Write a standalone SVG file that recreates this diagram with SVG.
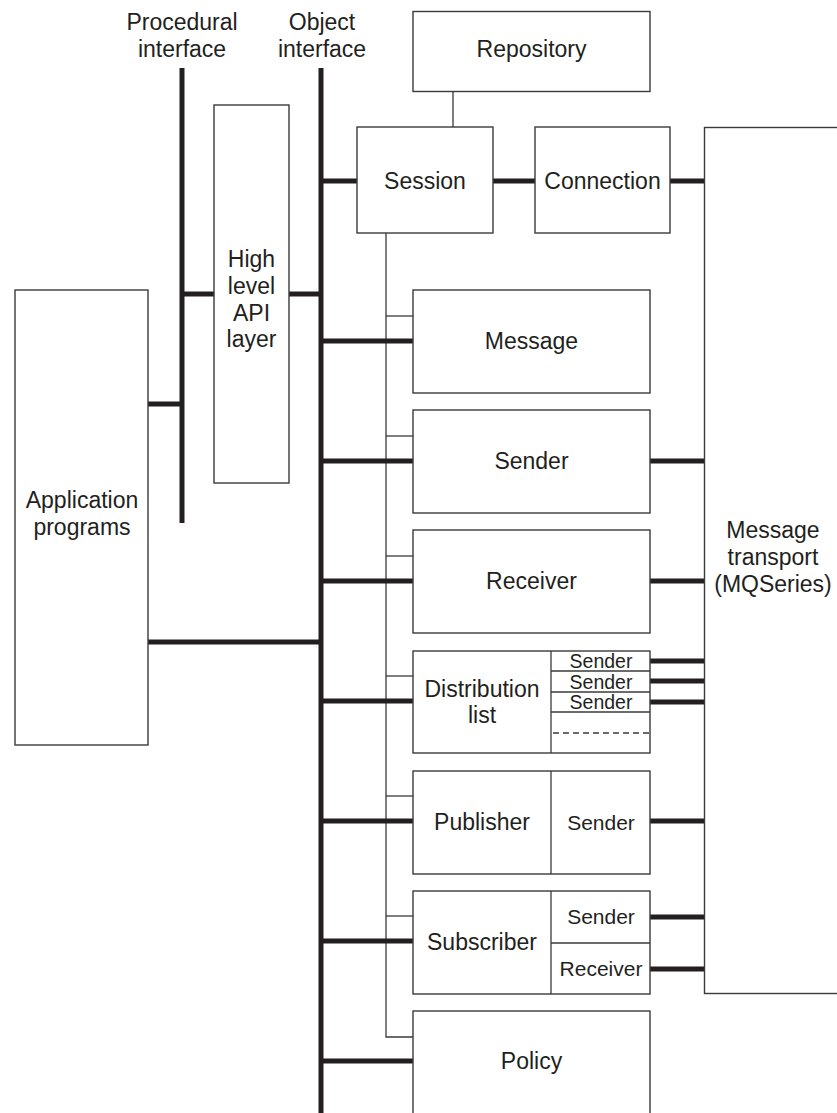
<svg xmlns="http://www.w3.org/2000/svg" width="837" height="1113" viewBox="0 0 837 1113">
<style>
.box{fill:#fff;stroke:#3a3a3a;stroke-width:1.4}
.thin{stroke:#3a3a3a;stroke-width:1.3;fill:none}
.thick{stroke:#231f20;stroke-width:5;fill:none}
.dash{stroke:#3a3a3a;stroke-width:1.3;stroke-dasharray:6,4;fill:none}
text{font-family:"Liberation Sans",Arial,sans-serif;fill:#231f20;text-anchor:middle}
.t{font-size:23px}
.s{font-size:21px}
.xs{font-size:19.5px}
</style>
<rect width="837" height="1113" fill="#fff"/>
<g id="labels">
<text class="t" x="182" y="30">Procedural</text>
<text class="t" x="182" y="57">interface</text>
<text class="t" x="322" y="30">Object</text>
<text class="t" x="322" y="57">interface</text>
</g>
<g id="connectors">
<line class="thick" x1="182" y1="68" x2="182" y2="523"/>
<line class="thick" x1="321" y1="68" x2="321" y2="1113"/>
<line class="thick" x1="182" y1="294" x2="214" y2="294"/>
<line class="thick" x1="289" y1="294" x2="321" y2="294"/>
<line class="thick" x1="148" y1="404" x2="182" y2="404"/>
<line class="thick" x1="148" y1="642" x2="321" y2="642"/>
<line class="thin" x1="453" y1="91" x2="453" y2="127"/>
<line class="thick" x1="321" y1="181" x2="357" y2="181"/>
<line class="thick" x1="493" y1="181" x2="535" y2="181"/>
<line class="thick" x1="670" y1="181" x2="704" y2="181"/>
<polyline class="thin" points="386,233 386,1037 413,1037"/>
<line class="thin" x1="386" y1="316" x2="413" y2="316"/>
<line class="thin" x1="386" y1="436" x2="413" y2="436"/>
<line class="thin" x1="386" y1="556" x2="413" y2="556"/>
<line class="thin" x1="386" y1="676" x2="413" y2="676"/>
<line class="thin" x1="386" y1="796" x2="413" y2="796"/>
<line class="thin" x1="386" y1="916" x2="413" y2="916"/>
<line class="thick" x1="321" y1="341" x2="413" y2="341"/>
<line class="thick" x1="321" y1="461" x2="413" y2="461"/>
<line class="thick" x1="321" y1="581" x2="413" y2="581"/>
<line class="thick" x1="321" y1="701" x2="413" y2="701"/>
<line class="thick" x1="321" y1="821" x2="413" y2="821"/>
<line class="thick" x1="321" y1="941" x2="413" y2="941"/>
<line class="thick" x1="321" y1="1061" x2="413" y2="1061"/>
<line class="thick" x1="650" y1="461" x2="704" y2="461"/>
<line class="thick" x1="650" y1="581" x2="704" y2="581"/>
<line class="thick" x1="650" y1="661" x2="704" y2="661"/>
<line class="thick" x1="650" y1="681" x2="704" y2="681"/>
<line class="thick" x1="650" y1="702" x2="704" y2="702"/>
<line class="thick" x1="650" y1="821" x2="704" y2="821"/>
<line class="thick" x1="650" y1="917" x2="704" y2="917"/>
<line class="thick" x1="650" y1="969" x2="704" y2="969"/>
</g>
<g id="high-level-api">
<rect class="box" x="214" y="105" width="75" height="378"/>
<text class="t" x="251.5" y="267">High</text>
<text class="t" x="251.5" y="294">level</text>
<text class="t" x="251.5" y="321">API</text>
<text class="t" x="251.5" y="347">layer</text>
</g>
<g id="application-programs">
<rect class="box" x="15" y="290" width="133" height="455"/>
<text class="t" x="82" y="508">Application</text>
<text class="t" x="82" y="535">programs</text>
</g>
<g id="repository">
<rect class="box" x="413" y="11.5" width="237" height="80"/>
<text class="t" x="531.5" y="57">Repository</text>
</g>
<g id="session">
<rect class="box" x="357" y="127" width="136" height="106"/>
<text class="t" x="425" y="189">Session</text>
</g>
<g id="connection">
<rect class="box" x="535" y="127" width="135" height="106"/>
<text class="t" x="602.5" y="189">Connection</text>
</g>
<g id="message-transport">
<rect class="box" x="704.5" y="127.5" width="200" height="866"/>
<text class="t" x="773" y="538">Message</text>
<text class="t" x="773" y="565">transport</text>
<text class="t" x="773" y="592">(MQSeries)</text>
</g>
<g id="message">
<rect class="box" x="413" y="290" width="237" height="103"/>
<text class="t" x="531.5" y="349">Message</text>
</g>
<g id="sender">
<rect class="box" x="413" y="410" width="237" height="103"/>
<text class="t" x="531.5" y="469">Sender</text>
</g>
<g id="receiver">
<rect class="box" x="413" y="530" width="237" height="103"/>
<text class="t" x="531.5" y="589">Receiver</text>
</g>
<g id="distribution-list">
<rect class="box" x="413" y="651" width="237" height="102"/>
<line class="thin" x1="551" y1="651" x2="551" y2="753"/>
<line class="thin" x1="551" y1="671" x2="650" y2="671"/>
<line class="thin" x1="551" y1="692" x2="650" y2="692"/>
<line class="thin" x1="551" y1="712" x2="650" y2="712"/>
<line class="dash" x1="553" y1="733" x2="650" y2="733"/>
<text class="t" x="482" y="697">Distribution</text>
<text class="t" x="482" y="723">list</text>
<text class="xs" x="601" y="668">Sender</text>
<text class="xs" x="601" y="689">Sender</text>
<text class="xs" x="601" y="709">Sender</text>
</g>
<g id="publisher">
<rect class="box" x="413" y="771" width="237" height="103"/>
<line class="thin" x1="551" y1="771" x2="551" y2="874"/>
<text class="t" x="482" y="830">Publisher</text>
<text class="s" x="601" y="830">Sender</text>
</g>
<g id="subscriber">
<rect class="box" x="413" y="891" width="237" height="103"/>
<line class="thin" x1="551" y1="891" x2="551" y2="994"/>
<line class="thin" x1="551" y1="943" x2="650" y2="943"/>
<text class="t" x="482" y="950">Subscriber</text>
<text class="s" x="601" y="924">Sender</text>
<text class="s" x="601" y="976">Receiver</text>
</g>
<g id="policy">
<rect class="box" x="413" y="1011" width="237" height="110"/>
<text class="t" x="531.5" y="1069">Policy</text>
</g>
</svg>
